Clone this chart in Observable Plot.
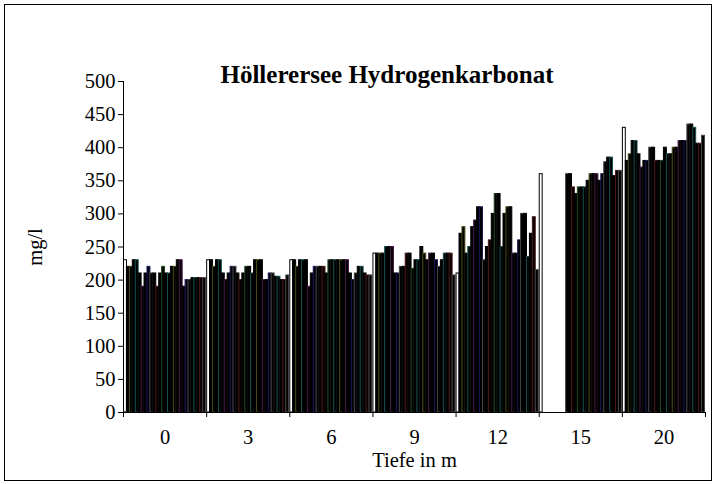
<!DOCTYPE html>
<html><head><meta charset="utf-8">
<script src="https://cdn.jsdelivr.net/npm/d3@7"></script>
<script src="https://cdn.jsdelivr.net/npm/@observablehq/plot@0.6"></script>
<style>
body{margin:0;background:#fff;}
#wrap{position:relative;width:718px;height:484px;font-family:"Liberation Serif","Times New Roman",serif;}
#frame{position:absolute;left:4px;top:4px;width:708px;height:477px;border:1px solid #000;box-sizing:border-box;pointer-events:none;}
#title{position:absolute;left:137px;width:500px;top:60px;text-align:center;font-weight:bold;font-size:25px;line-height:30px;}
</style></head>
<body>
<div id="wrap"><div id="frame"></div><div id="chart"></div><div id="title">Höllerersee Hydrogenkarbonat</div></div>
<script>
const depths = ["0","3","6","9","12","15","20"];
const yTicks = [0,50,100,150,200,250,300,350,400,450,500];
const v0  = [230,220,220,230,230,210,190,210,220,210,210,190,210,220,210,210,220,220,230,230,190,200,200,203,203,203,203,203];
const v3  = [230,230,220,230,230,210,200,210,220,220,210,200,210,220,220,210,230,230,230,200,200,210,210,205,205,200,200,207];
const v6  = [230,230,220,230,230,230,190,210,220,220,220,220,210,230,230,230,230,230,230,230,210,200,210,220,220,210,207,207];
const v9  = [240,240,240,240,250,250,250,210,210,220,220,240,240,217,230,230,250,240,230,240,240,230,220,230,240,240,240,207];
const v12 = [210,270,280,240,250,280,290,310,310,230,250,260,300,330,330,250,300,310,310,240,240,260,300,300,235,270,295,215];
const v15 = [360,null,null,null,null,null,null,null,null,360,360,340,330,340,340,340,350,360,360,360,350,360,378,385,385,357,365,365];
const v20 = [430,380,390,410,410,390,370,380,380,400,400,380,380,380,400,390,390,400,400,410,410,410,435,435,430,406,406,418];
const groups = [v0,v3,v6,v9,v12,v15,v20];
const strokes = ["#000000","#000000","#4a4a18","#000000","#185050","#000000","#481848","#000000","#18185a","#444444","#000000","#501818","#000000","#1e4a1e","#000000","#185050","#000000","#4a4a18","#000000","#481848","#000000","#18185a","#444444","#000000","#185050","#000000","#501818","#444444"];

const N = v0.length;
const G = 0.35;
const slot = N + G;
const rows = [];
groups.forEach((vals, g) => vals.forEach((v, i) => {
  if (v != null) rows.push({x1: g*slot + G/2 + i, x2: g*slot + G/2 + i + 1, value: v, series: i});
}));
const bounds = d3.range(depths.length + 1).map(g => g*slot);
const centers = depths.map((d, g) => g*slot + slot/2);

const chart = Plot.plot({
  width: 718, height: 484,
  marginLeft: 123, marginRight: 13, marginTop: 81, marginBottom: 72,
  x: {domain: [0, depths.length*slot], axis: null},
  y: {domain: [0, 500], axis: null},
  color: {type: "identity"},
  style: {fontFamily: "Liberation Serif, Times New Roman, serif", fontSize: "20.5px", color: "#000", background: "transparent"},
  marks: [
    Plot.rectY(rows, {x1: "x1", x2: "x2", y: "value",
      fill: d => d.series === 0 ? "#ffffff" : "#000000",
      stroke: d => strokes[d.series], strokeWidth: 1}),
    Plot.ruleX([0], {stroke: "#000"}),
    Plot.ruleY([0], {stroke: "#000"}),
    Plot.axisY({ticks: yTicks, tickSize: 5, tickPadding: 3, fontSize: 20.5, label: "mg/l", labelAnchor: "center", labelOffset: 96, labelArrow: "none"}),
    Plot.axisX({ticks: bounds, tickSize: 5, tickFormat: () => "", label: null}),
    Plot.axisX({ticks: centers, tickSize: 0, tickPadding: 17, fontSize: 20.5,
      tickFormat: d => depths[Math.round((d - slot/2)/slot)],
      label: "Tiefe in m", labelAnchor: "center", labelOffset: 54, labelArrow: "none"})
  ]
});
document.getElementById("chart").appendChild(chart);
</script>
</body></html>
